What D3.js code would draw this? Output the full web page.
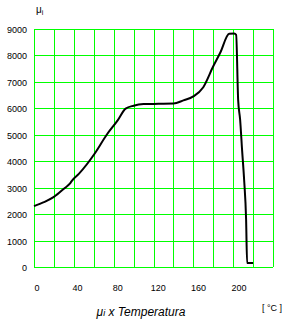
<!DOCTYPE html>
<html>
<head>
<meta charset="utf-8">
<script src="https://cdn.jsdelivr.net/npm/d3@7"></script>
<style>
  body { margin: 0; background: #fff; }
  text { font-family: "Liberation Sans", Arial, sans-serif; }
</style>
</head>
<body>
<script>
// temperature (°C) and initial permeability readings
const temps = [0, 10, 20, 31, 36, 38, 45, 61, 73, 84, 92, 100, 110, 125, 140, 150, 160, 170, 180, 187, 196, 201, 203, 205, 207, 209, 211, 213, 214, 220];
const mu = [2300, 2450, 2650, 2990, 3150, 3260, 3520, 4290, 5000, 5545, 5990, 6100, 6160, 6170, 6180, 6300, 6450, 6800, 7590, 8100, 8820, 8830, 8780, 6320, 5570, 4400, 3300, 1790, 150, 150];
const xLabels = [0, 40, 80, 120, 160, 200];
const yLabels = [0, 1000, 2000, 3000, 4000, 5000, 6000, 7000, 8000, 9000];

const width = 285, height = 325;
const svg = d3.select("body").append("svg")
    .attr("width", width)
    .attr("height", height);

const x = d3.scaleLinear().domain([0, 240]).range([34, 273]);
const y = d3.scaleLinear().domain([0, 9000]).range([267, 29]);
// tick labels sit slightly right of the gridlines in the original
const xl = d3.scaleLinear().domain([0, 200]).range([37, 239]);

// grid
const g = svg.append("g").attr("stroke", "#00ff00").attr("stroke-width", 1);
g.selectAll("line.v")
  .data(d3.range(0, 241, 20))
  .join("line")
    .attr("x1", d => Math.round(x(d)) + 0.5)
    .attr("x2", d => Math.round(x(d)) + 0.5)
    .attr("y1", y(9000))
    .attr("y2", y(0));
g.selectAll("line.h")
  .data(yLabels)
  .join("line")
    .attr("x1", x(0))
    .attr("x2", x(240))
    .attr("y1", d => Math.round(y(d)) + 0.5)
    .attr("y2", d => Math.round(y(d)) + 0.5);

// y labels
svg.append("g").selectAll("text")
  .data(yLabels)
  .join("text")
    .attr("x", 27)
    .attr("y", d => y(d) + 4)
    .attr("text-anchor", "end")
    .attr("font-size", 9)
    .text(d => d);

// x labels
svg.append("g").selectAll("text")
  .data(xLabels)
  .join("text")
    .attr("x", d => xl(d))
    .attr("y", 291)
    .attr("text-anchor", "middle")
    .attr("font-size", 9)
    .text(d => d);

// curve
const line = d3.line()
    .x((d, i) => x(temps[i]))
    .y(d => y(d))
    .curve(d3.curveMonotoneX);
svg.append("path")
    .datum(mu)
    .attr("fill", "none")
    .attr("stroke", "#000")
    .attr("stroke-width", 2)
    .attr("stroke-linejoin", "round")
    .attr("d", line);

// axis titles
const yt = svg.append("text")
    .attr("x", 36)
    .attr("y", 13)
    .attr("font-size", 10);
yt.append("tspan").text("μ");
yt.append("tspan").attr("font-size", 7).attr("dy", 2).text("i");

svg.append("text")
    .attr("x", 262)
    .attr("y", 311)
    .attr("font-size", 9)
    .text("[ °C ]");

const t = svg.append("text")
    .attr("x", 141)
    .attr("y", 316)
    .attr("text-anchor", "middle")
    .attr("font-size", 12)
    .attr("font-style", "italic");
t.append("tspan").text("μ");
t.append("tspan").attr("font-size", 9).text("i");
t.append("tspan").text(" x Temperatura");
</script>
</body>
</html>
